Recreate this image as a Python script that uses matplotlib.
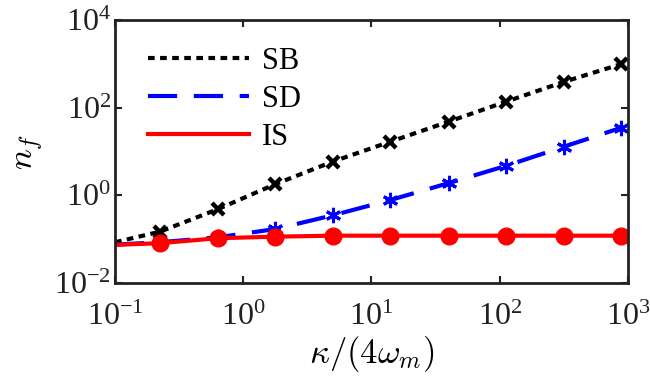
import numpy as np
import matplotlib
matplotlib.use("Agg")
import matplotlib.pyplot as plt
from matplotlib.ticker import FuncFormatter

# data (first point is the left edge, no marker there)
kappa = [0.1, 0.224, 0.63, 1.78, 5.0, 14.0, 40.0, 112.0, 318.0, 890.0]
n_sb = [0.085, 0.148, 0.48, 1.8, 5.9, 16.7, 48.0, 137.0, 390.0, 990.0]
n_sd = [0.075, 0.085, 0.11, 0.17, 0.35, 0.78, 1.9, 4.7, 12.9, 35.0]
n_is = [0.074, 0.081, 0.105, 0.114, 0.12, 0.12, 0.12, 0.12, 0.12, 0.12]

plt.rcParams["font.family"] = ["Liberation Serif", "DejaVu Serif"]
plt.rcParams["mathtext.fontset"] = "custom"
plt.rcParams["mathtext.rm"] = "Liberation Serif"
plt.rcParams["mathtext.it"] = "Liberation Serif:italic"

fig = plt.figure(figsize=(6.5, 3.85), dpi=100)
ax = fig.add_axes([0.177, 0.265, 0.789, 0.683])

ax.plot(kappa, n_sb, color="black", lw=3, dashes=(1.6, 1.3), label="SB")
ax.plot(kappa, n_sd, color="blue", lw=3, dashes=(7, 4), label="SD")
ax.plot(kappa, n_is, color="red", lw=3, label="IS")

ax.plot(kappa[1:], n_sb[1:], ls="none", marker="x", ms=9, mew=3.2, color="black")
ax.plot(kappa[1:], n_sd[1:], ls="none", marker=(6, 2, 0), ms=11, mew=2.2, color="blue")
ax.plot(kappa[1:], n_is[1:], ls="none", marker="o", ms=12, color="red")

ax.set_xscale("log")
ax.set_yscale("log")
ax.set_xlim(0.1, 1000)
ax.set_ylim(1e-2, 1e4)
ax.set_xticks([1e-1, 1e0, 1e1, 1e2, 1e3])
ax.set_yticks([1e-2, 1e0, 1e2, 1e4])
ax.minorticks_off()


def fmt(v, pos):
    e = int(round(np.log10(v)))
    return r"$\mathregular{10^{%d}}$" % e


ax.xaxis.set_major_formatter(FuncFormatter(fmt))
ax.yaxis.set_major_formatter(FuncFormatter(fmt))
ax.tick_params(which="both", direction="in", top=True, right=True,
               length=5, width=1.5, labelsize=23, colors="#222222",
               labelcolor="#222222")
ax.tick_params(axis="x", pad=14)
ax.tick_params(axis="y", pad=3)

for s in ax.spines.values():
    s.set_linewidth(2)
    s.set_color("#222222")

ax.set_xlabel(r"$\kappa/(4\omega_m)$", fontsize=25, labelpad=2,
              math_fontfamily="cm")
ax.set_ylabel(r"$n_f$", fontsize=25, labelpad=6, math_fontfamily="cm")

ax.legend(loc="upper left", frameon=False, fontsize=22, handlelength=3.3,
          handletextpad=0.45, labelspacing=0.3,
          bbox_to_anchor=(0.04, 0.945), borderaxespad=0.0)

fig.savefig("out.png", dpi=100)
